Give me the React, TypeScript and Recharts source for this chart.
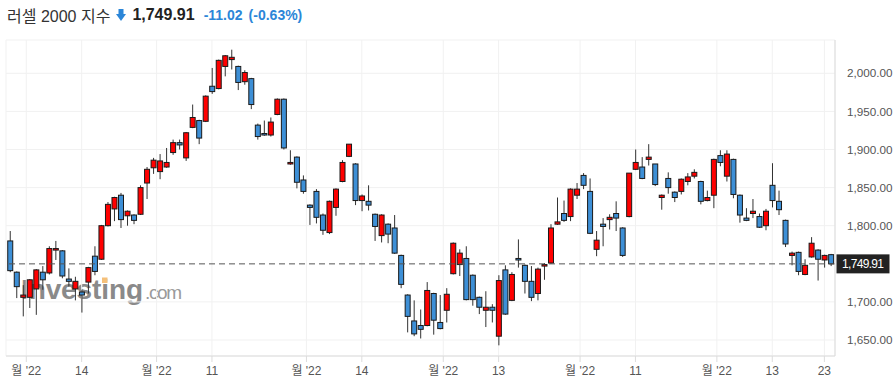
import { ComposedChart, Bar, XAxis, YAxis, CartesianGrid, ReferenceLine } from 'recharts';

// trading days, 2022-06-28 .. 2022-12-27
const dates = [
  '06-28', '06-29', '06-30',
  '07-01', '07-05', '07-06', '07-07', '07-08', '07-11', '07-12', '07-13', '07-14', '07-15',
  '07-18', '07-19', '07-20', '07-21', '07-22', '07-25', '07-26', '07-27', '07-28', '07-29',
  '08-01', '08-02', '08-03', '08-04', '08-05', '08-08', '08-09', '08-10', '08-11', '08-12',
  '08-15', '08-16', '08-17', '08-18', '08-19', '08-22', '08-23', '08-24', '08-25', '08-26',
  '08-29', '08-30', '08-31',
  '09-01', '09-02', '09-06', '09-07', '09-08', '09-09', '09-12', '09-13', '09-14', '09-15',
  '09-16', '09-19', '09-20', '09-21', '09-22', '09-23', '09-26', '09-27', '09-28', '09-29', '09-30',
  '10-03', '10-04', '10-05', '10-06', '10-07', '10-10', '10-11', '10-12', '10-13', '10-14',
  '10-17', '10-18', '10-19', '10-20', '10-21', '10-24', '10-25', '10-26', '10-27', '10-28', '10-31',
  '11-01', '11-02', '11-03', '11-04', '11-07', '11-08', '11-09', '11-10', '11-11', '11-14',
  '11-15', '11-16', '11-17', '11-18', '11-21', '11-22', '11-23', '11-25', '11-28', '11-29', '11-30',
  '12-01', '12-02', '12-05', '12-06', '12-07', '12-08', '12-09', '12-12', '12-13', '12-14',
  '12-15', '12-16', '12-19', '12-20', '12-21', '12-22', '12-23', '12-27',
];

const open = [
  1780, 1739, 1706, 1706, 1717, 1739, 1738, 1768, 1767, 1730, 1717, 1713, 1726, 1760, 1756, 1800,
  1822, 1840, 1813, 1814, 1815, 1856, 1876, 1871, 1877, 1896, 1909, 1889, 1929, 1938, 1937, 1983,
  1980, 2009, 2018, 2009, 1989, 1993, 1932, 1921, 1919, 1946, 1966, 1881, 1890, 1860, 1827, 1845,
  1814, 1791, 1824, 1858, 1891, 1881, 1833, 1832, 1815, 1787, 1802, 1797, 1761, 1709, 1675, 1669,
  1669, 1711, 1673, 1689, 1737, 1749, 1757, 1735, 1706, 1689, 1693, 1655, 1742, 1702, 1757, 1748,
  1727, 1711, 1747, 1751, 1802, 1816, 1812, 1840, 1866, 1845, 1769, 1802, 1808, 1816, 1797, 1812,
  1874, 1877, 1887, 1881, 1837, 1862, 1844, 1845, 1858, 1865, 1858, 1833, 1840, 1892, 1865, 1887,
  1840, 1810, 1816, 1812, 1800, 1853, 1832, 1807, 1761, 1765, 1736, 1759, 1768, 1755, 1762,
];
const high = [
  1793, 1740, 1722, 1730, 1743, 1747, 1773, 1780, 1768, 1744, 1733, 1716, 1746, 1773, 1801, 1831,
  1838, 1843, 1820, 1815, 1853, 1877, 1889, 1894, 1902, 1913, 1913, 1923, 1959, 1939, 1971, 2007,
  2018, 2024, 2031, 2010, 2004, 1994, 1934, 1938, 1942, 1967, 1967, 1899, 1891, 1866, 1828, 1848,
  1816, 1833, 1849, 1886, 1907, 1882, 1841, 1853, 1816, 1815, 1803, 1814, 1762, 1710, 1702, 1690,
  1726, 1712, 1709, 1718, 1778, 1769, 1773, 1736, 1707, 1714, 1697, 1735, 1748, 1739, 1782, 1749,
  1747, 1745, 1751, 1802, 1837, 1833, 1849, 1856, 1869, 1862, 1793, 1810, 1815, 1832, 1798, 1869,
  1900, 1890, 1907, 1881, 1841, 1870, 1845, 1862, 1869, 1874, 1859, 1846, 1888, 1899, 1899, 1888,
  1841, 1823, 1835, 1816, 1822, 1882, 1846, 1808, 1766, 1766, 1756, 1785, 1769, 1762, 1763,
];
const low = [
  1739, 1705, 1681, 1692, 1683, 1716, 1736, 1755, 1731, 1720, 1702, 1686, 1711, 1735, 1755, 1799,
  1806, 1797, 1800, 1802, 1814, 1835, 1868, 1861, 1876, 1893, 1900, 1885, 1928, 1907, 1936, 1973,
  1979, 1996, 2005, 1978, 1985, 1953, 1913, 1918, 1917, 1945, 1900, 1880, 1849, 1842, 1801, 1803,
  1788, 1789, 1813, 1857, 1890, 1827, 1819, 1820, 1780, 1778, 1777, 1763, 1718, 1660, 1655, 1652,
  1668, 1657, 1664, 1673, 1736, 1734, 1702, 1695, 1684, 1667, 1673, 1643, 1683, 1701, 1745, 1711,
  1701, 1702, 1729, 1750, 1801, 1805, 1806, 1835, 1848, 1789, 1760, 1773, 1795, 1793, 1759, 1811,
  1873, 1861, 1879, 1852, 1821, 1842, 1831, 1841, 1853, 1862, 1828, 1832, 1823, 1878, 1858, 1836,
  1804, 1806, 1810, 1797, 1794, 1824, 1814, 1772, 1748, 1735, 1735, 1758, 1728, 1745, 1747,
];
const close = [
  1741, 1720, 1709, 1729, 1742, 1729, 1770, 1770, 1734, 1727, 1727, 1709, 1745, 1740, 1800, 1828,
  1837, 1808, 1819, 1807, 1850, 1874, 1886, 1885, 1883, 1909, 1906, 1922, 1942, 1915, 1970, 1976,
  2017, 2023, 2021, 1988, 2001, 1959, 1917, 1919, 1936, 1966, 1902, 1883, 1857, 1845, 1824, 1811,
  1794, 1832, 1848, 1883, 1907, 1833, 1839, 1827, 1799, 1814, 1789, 1764, 1723, 1681, 1658, 1664,
  1715, 1676, 1665, 1710, 1777, 1764, 1703, 1703, 1693, 1693, 1689, 1728, 1684, 1736, 1755, 1727,
  1706, 1743, 1749, 1797, 1805, 1807, 1848, 1848, 1853, 1790, 1781, 1799, 1811, 1810, 1761, 1869,
  1883, 1862, 1890, 1854, 1840, 1850, 1837, 1861, 1864, 1870, 1832, 1837, 1887, 1883, 1894, 1841,
  1814, 1807, 1819, 1798, 1819, 1833, 1821, 1776, 1764, 1740, 1748, 1777, 1756, 1761, 1749.91,
];

const tickPos = [2.5, 11, 22.5, 31, 45.5, 54, 66.5, 75, 87.5, 96, 108.5, 117, 125];
const tickLabels = ["월 '22", '14', "월 '22", '11', "월 '22", '14', "월 '22", '13', "월 '22", '11', "월 '22", '13', '23'];
// 1,750.00 sits under the last-price tag, so it is not labelled
const priceTicks = [1650, 1700, 1800, 1850, 1900, 1950, 2000];
const lastPrice = 1749.91;

const data = dates.map((d, i) => ({
  i,
  date: d,
  open: open[i],
  high: high[i],
  low: low[i],
  close: close[i],
  range: [low[i], high[i]],
}));

const UP = '#ff0000';
const DOWN = '#3d8fd6';
const FONT = "'Liberation Sans', Arial, sans-serif";

const Candle = (props: any) => {
  const { x, y, width, height, payload } = props;
  if (payload == null || height == null) return null;
  const { open: o, close: c, high: h, low: l } = payload;
  const cx = x + width / 2;
  const span = h - l || 1;
  const toY = (v: number) => y + ((h - v) / span) * height;
  const top = toY(Math.max(o, c));
  const bot = toY(Math.min(o, c));
  const bh = Math.max(bot - top, 1);
  return (
    <g>
      <line x1={cx} x2={cx} y1={y} y2={y + height} stroke="#333" strokeWidth={1} />
      <rect
        x={cx - 2.5}
        y={top}
        width={5}
        height={bh}
        fill={c >= o ? UP : DOWN}
        stroke="#1a1a1a"
        strokeWidth={1}
      />
    </g>
  );
};

const PriceTag = (props: any) => {
  const vb = props.viewBox || {};
  const x = vb.x + vb.width + 1.5;
  const y = vb.y;
  return (
    <g>
      <rect x={x} y={y - 9.5} width={53} height={19} fill="#222" />
      <text x={x + 5.5} y={y + 4.3} fill="#fff" fontSize={12} textLength={42} fontFamily={FONT}>
        {lastPrice.toLocaleString('en-US', { minimumFractionDigits: 2 })}
      </text>
    </g>
  );
};

export default function App() {
  return (
    <div
      style={{
        position: 'absolute',
        left: 0,
        top: 0,
        width: 895,
        height: 388,
        background: '#fff',
        overflow: 'hidden',
        fontFamily: "'Liberation Sans', Arial, 'Noto Sans CJK KR', sans-serif",
      }}
    >
      <div style={{ position: 'absolute', left: 7, top: 4, display: 'flex', alignItems: 'center', height: 22, whiteSpace: 'nowrap' }}>
        <span style={{ fontSize: 16, color: '#333' }}>러셀 2000 지수</span>
        <svg width={10} height={12} style={{ marginLeft: 6, marginRight: 6 }}>
          <rect x={2.5} y={0} width={5} height={6} fill="#2b86d8" />
          <polygon points="0,5 10,5 5,12" fill="#2b86d8" />
        </svg>
        <span style={{ fontSize: 16, fontWeight: 700, color: '#222' }}>1,749.91</span>
        <span style={{ fontSize: 14, fontWeight: 700, color: '#2b86d8', marginLeft: 9 }}>-11.02</span>
        <span style={{ fontSize: 14, fontWeight: 700, color: '#2b86d8', marginLeft: 6 }}>(-0.63%)</span>
      </div>
      <svg width={895} height={388} style={{ position: 'absolute', left: 0, top: 0 }}>
        <text x={21} y={298.5} fontSize={28} fontWeight={700} fill="#8a8a8a" fontFamily={FONT} textLength={122}>
          Investing
        </text>
        <rect x={102} y={277.5} width={5.5} height={5.5} fill="#f5c07a" />
        <text x={145} y={298.5} fontSize={19} fill="#9a9a9a" fontFamily={FONT} textLength={37}>
          .com
        </text>
      </svg>
      <div style={{ position: 'absolute', left: 0, top: 0 }}>
        <ComposedChart
          width={895}
          height={388}
          data={data}
          margin={{ top: 40, right: 0, bottom: 0, left: 6 }}
        >
          <CartesianGrid stroke="#f1f1f1" />
          <XAxis
            dataKey="i"
            type="number"
            domain={[-0.614, 126.63]}
            allowDataOverflow
            ticks={tickPos}
            interval={0}
            tickFormatter={(v: number) => tickLabels[tickPos.indexOf(v)] ?? ''}
            height={32}
            tickSize={6}
            tickMargin={4}
            stroke="#dcdcdc"
            tick={{ fill: '#555', fontSize: 12 }}
          />
          <YAxis
            orientation="right"
            type="number"
            domain={[1629, 2043.7]}
            allowDataOverflow
            ticks={priceTicks}
            width={60}
            tickLine={false}
            tickMargin={6}
            stroke="#dcdcdc"
            tick={{ fill: '#555', fontSize: 11.7, textAnchor: 'start' }}
            tickFormatter={(v: number) => v.toLocaleString('en-US', { minimumFractionDigits: 2 })}
          />
          <ReferenceLine y={lastPrice} stroke="#555" strokeDasharray="6 4" label={<PriceTag />} />
          <Bar dataKey="range" barSize={5} shape={<Candle />} isAnimationActive={false} />
        </ComposedChart>
      </div>
    </div>
  );
}
